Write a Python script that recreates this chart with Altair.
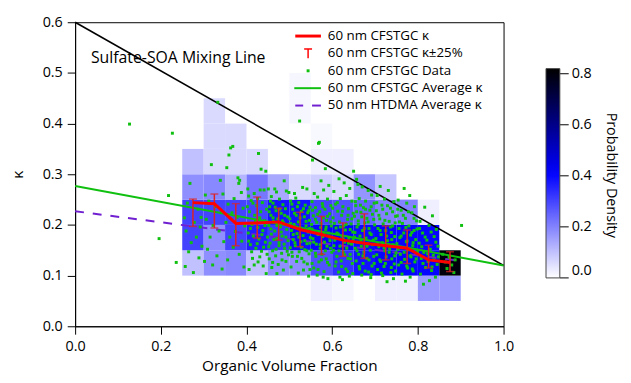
import altair as alt
import pandas as pd

# ---------------- data ----------------
# probability-density heat map: lower-left corner (f, kappa) of 0.05 x 0.05 cells
cell_f = [0.25, 0.25, 0.25, 0.25, 0.25,
          0.30, 0.30, 0.30, 0.30, 0.30, 0.30, 0.30,
          0.35, 0.35, 0.35, 0.35, 0.35, 0.35,
          0.40, 0.40, 0.40, 0.40, 0.40,
          0.45, 0.45, 0.45, 0.45,
          0.50, 0.50, 0.50, 0.50, 0.50, 0.50,
          0.55, 0.55, 0.55, 0.55, 0.55, 0.55, 0.55,
          0.60, 0.60, 0.60, 0.60, 0.60, 0.60,
          0.65, 0.65, 0.65, 0.65,
          0.70, 0.70, 0.70, 0.70, 0.70,
          0.75, 0.75, 0.75, 0.75,
          0.80, 0.80, 0.80, 0.80,
          0.85, 0.85]
cell_k = [0.10, 0.15, 0.20, 0.25, 0.30,
          0.10, 0.15, 0.20, 0.25, 0.30, 0.35, 0.40,
          0.10, 0.15, 0.20, 0.25, 0.30, 0.35,
          0.10, 0.15, 0.20, 0.25, 0.30,
          0.10, 0.15, 0.20, 0.25,
          0.10, 0.15, 0.20, 0.25, 0.40, 0.45,
          0.05, 0.10, 0.15, 0.20, 0.25, 0.30, 0.35,
          0.05, 0.10, 0.15, 0.20, 0.25, 0.30,
          0.10, 0.15, 0.20, 0.25,
          0.05, 0.10, 0.15, 0.20, 0.25,
          0.05, 0.10, 0.15, 0.20,
          0.05, 0.10, 0.15, 0.20,
          0.05, 0.10]
cell_v = [0.10, 0.30, 0.30, 0.18, 0.10,
          0.18, 0.18, 0.30, 0.19, 0.06, 0.06, 0.06,
          0.19, 0.30, 0.30, 0.12, 0.06, 0.06,
          0.10, 0.36, 0.30, 0.22, 0.06,
          0.18, 0.32, 0.38, 0.14,
          0.18, 0.39, 0.38, 0.06, 0.015, 0.015,
          0.025, 0.28, 0.40, 0.30, 0.08, 0.025, 0.012,
          0.015, 0.33, 0.40, 0.28, 0.06, 0.025,
          0.38, 0.39, 0.25, 0.17,
          0.025, 0.40, 0.40, 0.20, 0.09,
          0.025, 0.40, 0.40, 0.20,
          0.16, 0.40, 0.40, 0.025,
          0.16, 0.80]

# 60 nm CFSTGC kappa per organic-fraction bin
bin_f = [0.275, 0.325, 0.375, 0.425, 0.475, 0.525, 0.575, 0.625, 0.675, 0.725, 0.775, 0.825, 0.875]
kappa_avg = [0.244, 0.242, 0.203, 0.204, 0.206, 0.191, 0.181, 0.170, 0.164, 0.159, 0.154, 0.131, 0.126]
kappa_hi = [0.251, 0.261, 0.242, 0.255, 0.233, 0.225, 0.217, 0.204, 0.222, 0.198, 0.190, 0.160, 0.147]
kappa_lo = [0.197, 0.194, 0.159, 0.174, 0.170, 0.157, 0.142, 0.138, 0.134, 0.131, 0.124, 0.115, 0.108]

# straight lines
mix_f = [0.0, 1.0]
mix_k = [0.60, 0.12]
avg60_f = [0.0, 1.0]
avg60_k = [0.277, 0.120]
htdma_f = [0.0, 0.90]
htdma_k = [0.227, 0.129]

# 60 nm CFSTGC data points (organic fraction, kappa), grouped by column
pts_out = [(0.127, 0.399), (0.227, 0.381), (0.218, 0.258), (0.196, 0.173), (0.236, 0.126)]
pts_c25 = [(0.268, 0.282), (0.262, 0.243), (0.287, 0.231), (0.255, 0.214), (0.278, 0.205), (0.292, 0.196),
           (0.259, 0.188), (0.283, 0.176), (0.271, 0.165), (0.296, 0.158), (0.265, 0.147), (0.289, 0.135),
           (0.257, 0.118), (0.276, 0.106), (0.294, 0.215)]
pts_c30 = [(0.333, 0.442), (0.318, 0.319), (0.339, 0.288), (0.304, 0.259), (0.345, 0.261), (0.312, 0.247),
           (0.327, 0.236), (0.341, 0.224), (0.306, 0.211), (0.322, 0.199), (0.336, 0.188), (0.315, 0.176),
           (0.347, 0.167), (0.309, 0.152), (0.331, 0.139), (0.321, 0.121), (0.343, 0.113), (0.302, 0.128)]
pts_c35 = [(0.363, 0.352), (0.368, 0.355), (0.359, 0.338), (0.354, 0.313), (0.380, 0.293), (0.384, 0.288),
           (0.382, 0.282), (0.388, 0.264), (0.371, 0.252), (0.357, 0.241), (0.392, 0.233), (0.366, 0.224),
           (0.378, 0.215), (0.352, 0.205), (0.396, 0.198), (0.374, 0.187), (0.361, 0.176), (0.389, 0.168),
           (0.369, 0.156), (0.383, 0.142), (0.356, 0.131), (0.394, 0.117)]
pts_c40 = [(0.428, 0.341), (0.434, 0.310), (0.445, 0.306), (0.403, 0.271), (0.405, 0.257), (0.432, 0.269),
           (0.441, 0.269), (0.418, 0.262), (0.411, 0.248), (0.437, 0.244), (0.424, 0.238), (0.447, 0.231),
           (0.407, 0.226), (0.419, 0.219), (0.431, 0.214), (0.442, 0.208), (0.413, 0.201), (0.426, 0.195),
           (0.438, 0.189), (0.404, 0.184), (0.416, 0.178), (0.429, 0.172), (0.444, 0.166), (0.409, 0.161),
           (0.422, 0.154), (0.435, 0.148), (0.448, 0.142), (0.414, 0.134), (0.427, 0.127), (0.439, 0.119),
           (0.406, 0.112), (0.446, 0.104)]
pts_d40 = [(0.402, 0.236), (0.415, 0.243), (0.433, 0.226), (0.443, 0.199), (0.421, 0.207), (0.409, 0.193),
           (0.436, 0.181), (0.425, 0.163), (0.412, 0.147), (0.440, 0.156), (0.418, 0.121), (0.431, 0.137),
           (0.449, 0.176), (0.405, 0.168), (0.426, 0.252)]
pts_c45 = [(0.451, 0.271), (0.466, 0.271), (0.470, 0.265), (0.488, 0.287), (0.493, 0.267), (0.499, 0.264),
           (0.458, 0.256), (0.477, 0.251), (0.462, 0.243), (0.485, 0.240), (0.454, 0.236), (0.491, 0.232),
           (0.469, 0.228), (0.481, 0.223), (0.457, 0.219), (0.496, 0.216), (0.473, 0.212), (0.463, 0.207),
           (0.487, 0.204), (0.452, 0.199), (0.479, 0.196), (0.494, 0.191), (0.466, 0.188), (0.458, 0.182),
           (0.483, 0.178), (0.471, 0.173), (0.497, 0.169), (0.455, 0.164), (0.476, 0.159), (0.489, 0.154),
           (0.461, 0.149), (0.482, 0.144), (0.468, 0.139), (0.453, 0.133), (0.492, 0.128), (0.474, 0.122),
           (0.459, 0.116), (0.486, 0.111), (0.471, 0.104), (0.498, 0.141)]
pts_d45 = [(0.456, 0.247), (0.467, 0.235), (0.478, 0.231), (0.489, 0.219), (0.453, 0.226), (0.462, 0.214),
           (0.484, 0.208), (0.495, 0.201), (0.471, 0.199), (0.457, 0.192), (0.481, 0.186), (0.492, 0.176),
           (0.464, 0.171), (0.476, 0.165), (0.488, 0.162), (0.452, 0.157), (0.469, 0.152), (0.495, 0.148),
           (0.461, 0.126), (0.483, 0.131)]
pts_c50 = [(0.524, 0.405), (0.512, 0.262), (0.515, 0.253), (0.531, 0.274), (0.541, 0.271), (0.554, 0.328),
           (0.503, 0.247), (0.522, 0.244), (0.537, 0.239), (0.548, 0.235), (0.508, 0.231), (0.528, 0.227),
           (0.543, 0.224), (0.516, 0.219), (0.535, 0.216), (0.501, 0.212), (0.547, 0.209), (0.521, 0.206),
           (0.511, 0.201), (0.539, 0.198), (0.526, 0.194), (0.505, 0.189), (0.544, 0.186), (0.518, 0.183),
           (0.532, 0.179), (0.549, 0.175), (0.509, 0.171), (0.527, 0.167), (0.541, 0.163), (0.514, 0.159),
           (0.502, 0.155), (0.536, 0.151), (0.523, 0.147), (0.546, 0.143), (0.507, 0.138), (0.529, 0.134),
           (0.517, 0.128), (0.542, 0.123), (0.504, 0.117), (0.533, 0.111), (0.521, 0.105), (0.545, 0.099)]
pts_d50 = [(0.506, 0.241), (0.519, 0.236), (0.533, 0.232), (0.545, 0.228), (0.512, 0.223), (0.525, 0.214),
           (0.539, 0.207), (0.503, 0.203), (0.517, 0.196), (0.531, 0.191), (0.547, 0.193), (0.509, 0.181),
           (0.522, 0.176), (0.536, 0.169), (0.548, 0.164), (0.513, 0.165), (0.528, 0.156), (0.541, 0.149),
           (0.506, 0.146), (0.519, 0.138), (0.534, 0.127), (0.548, 0.112)]
pts_c55 = [(0.568, 0.361), (0.570, 0.363), (0.574, 0.287), (0.584, 0.311), (0.580, 0.269), (0.592, 0.278),
           (0.558, 0.262), (0.566, 0.255), (0.589, 0.251), (0.553, 0.246), (0.577, 0.242), (0.597, 0.238),
           (0.561, 0.234), (0.583, 0.231), (0.571, 0.226), (0.594, 0.222), (0.556, 0.218), (0.579, 0.214),
           (0.587, 0.209), (0.564, 0.205), (0.552, 0.201), (0.598, 0.198), (0.573, 0.195), (0.585, 0.191),
           (0.559, 0.187), (0.591, 0.184), (0.567, 0.181), (0.578, 0.177), (0.555, 0.173), (0.595, 0.169),
           (0.582, 0.166), (0.563, 0.162), (0.588, 0.158), (0.572, 0.154), (0.551, 0.150), (0.599, 0.146),
           (0.576, 0.142), (0.562, 0.138), (0.586, 0.133), (0.569, 0.127), (0.593, 0.121), (0.557, 0.115),
           (0.581, 0.108), (0.565, 0.101), (0.590, 0.094)]
pts_d55 = [(0.554, 0.229), (0.566, 0.221), (0.578, 0.236), (0.589, 0.217), (0.597, 0.206), (0.561, 0.211),
           (0.574, 0.203), (0.586, 0.196), (0.553, 0.192), (0.569, 0.186), (0.581, 0.182), (0.594, 0.176),
           (0.557, 0.166), (0.572, 0.161), (0.584, 0.149), (0.596, 0.154), (0.561, 0.144), (0.575, 0.131),
           (0.589, 0.126), (0.553, 0.124), (0.567, 0.112), (0.579, 0.097)]
pts_c60 = [(0.650, 0.306), (0.616, 0.291), (0.628, 0.283), (0.641, 0.272), (0.604, 0.266), (0.633, 0.258),
           (0.619, 0.252), (0.646, 0.247), (0.608, 0.241), (0.625, 0.236), (0.638, 0.232), (0.613, 0.227),
           (0.649, 0.223), (0.622, 0.219), (0.602, 0.214), (0.636, 0.211), (0.617, 0.206), (0.644, 0.202),
           (0.627, 0.198), (0.609, 0.194), (0.631, 0.190), (0.648, 0.186), (0.614, 0.182), (0.623, 0.178),
           (0.639, 0.174), (0.606, 0.170), (0.629, 0.166), (0.645, 0.162), (0.618, 0.158), (0.634, 0.154),
           (0.603, 0.150), (0.626, 0.146), (0.642, 0.142), (0.611, 0.138), (0.637, 0.134), (0.621, 0.129),
           (0.647, 0.124), (0.607, 0.119), (0.632, 0.113), (0.615, 0.107), (0.640, 0.099), (0.624, 0.092)]
pts_d60 = [(0.601, 0.233), (0.612, 0.244), (0.624, 0.227), (0.637, 0.219), (0.646, 0.212), (0.605, 0.203),
           (0.619, 0.196), (0.633, 0.201), (0.642, 0.191), (0.611, 0.184), (0.626, 0.172), (0.638, 0.164),
           (0.649, 0.171), (0.604, 0.159), (0.616, 0.149), (0.629, 0.141), (0.643, 0.133), (0.609, 0.127),
           (0.622, 0.118), (0.636, 0.108), (0.648, 0.104), (0.618, 0.097)]
pts_c65 = [(0.657, 0.290), (0.660, 0.280), (0.670, 0.275), (0.684, 0.268), (0.692, 0.259), (0.663, 0.252),
           (0.678, 0.247), (0.698, 0.243), (0.655, 0.238), (0.673, 0.234), (0.688, 0.229), (0.667, 0.225),
           (0.694, 0.221), (0.652, 0.217), (0.681, 0.213), (0.661, 0.208), (0.676, 0.204), (0.699, 0.200),
           (0.658, 0.196), (0.686, 0.193), (0.671, 0.189), (0.653, 0.185), (0.691, 0.181), (0.665, 0.178),
           (0.679, 0.174), (0.696, 0.170), (0.659, 0.166), (0.683, 0.162), (0.668, 0.158), (0.654, 0.154),
           (0.689, 0.150), (0.674, 0.146), (0.662, 0.142), (0.697, 0.138), (0.681, 0.134), (0.656, 0.129),
           (0.672, 0.124), (0.693, 0.119), (0.664, 0.113), (0.685, 0.107), (0.669, 0.101), (0.690, 0.096)]
pts_d65 = [(0.654, 0.246), (0.666, 0.239), (0.678, 0.231), (0.691, 0.236), (0.657, 0.226), (0.669, 0.216),
           (0.684, 0.206), (0.697, 0.211), (0.661, 0.201), (0.675, 0.193), (0.688, 0.184), (0.652, 0.176),
           (0.667, 0.169), (0.681, 0.158), (0.694, 0.161), (0.658, 0.149), (0.672, 0.139), (0.686, 0.131),
           (0.698, 0.124), (0.663, 0.118), (0.677, 0.109), (0.691, 0.102)]
pts_c70 = [(0.712, 0.276), (0.731, 0.268), (0.705, 0.258), (0.722, 0.251), (0.744, 0.246), (0.716, 0.239),
           (0.736, 0.233), (0.703, 0.228), (0.727, 0.222), (0.748, 0.217), (0.711, 0.212), (0.733, 0.207),
           (0.719, 0.202), (0.741, 0.198), (0.707, 0.193), (0.725, 0.189), (0.738, 0.185), (0.714, 0.181),
           (0.746, 0.177), (0.702, 0.173), (0.729, 0.169), (0.717, 0.165), (0.742, 0.161), (0.709, 0.157),
           (0.734, 0.153), (0.723, 0.149), (0.749, 0.145), (0.704, 0.141), (0.726, 0.137), (0.739, 0.133),
           (0.713, 0.128), (0.745, 0.123), (0.721, 0.118), (0.706, 0.112), (0.737, 0.106), (0.718, 0.100),
           (0.743, 0.094), (0.728, 0.088)]
pts_d70 = [(0.704, 0.244), (0.718, 0.231), (0.729, 0.238), (0.741, 0.226), (0.709, 0.219), (0.723, 0.209),
           (0.736, 0.196), (0.747, 0.204), (0.712, 0.189), (0.727, 0.178), (0.739, 0.171), (0.706, 0.163),
           (0.721, 0.155), (0.733, 0.146), (0.746, 0.139), (0.711, 0.131), (0.724, 0.124), (0.738, 0.116),
           (0.748, 0.109), (0.715, 0.105)]
pts_c75 = [(0.768, 0.272), (0.781, 0.258), (0.754, 0.249), (0.774, 0.243), (0.792, 0.236), (0.761, 0.229),
           (0.786, 0.224), (0.752, 0.218), (0.771, 0.213), (0.797, 0.208), (0.764, 0.203), (0.779, 0.198),
           (0.756, 0.193), (0.791, 0.189), (0.767, 0.184), (0.783, 0.180), (0.758, 0.175), (0.795, 0.171),
           (0.773, 0.167), (0.751, 0.163), (0.788, 0.159), (0.762, 0.155), (0.777, 0.151), (0.799, 0.147),
           (0.759, 0.142), (0.784, 0.137), (0.769, 0.132), (0.793, 0.127), (0.755, 0.121), (0.776, 0.115),
           (0.789, 0.109), (0.763, 0.103), (0.782, 0.097), (0.771, 0.089)]
pts_d75 = [(0.753, 0.231), (0.766, 0.219), (0.778, 0.226), (0.791, 0.213), (0.757, 0.206), (0.772, 0.195),
           (0.786, 0.185), (0.798, 0.192), (0.761, 0.178), (0.775, 0.168), (0.789, 0.165), (0.754, 0.152),
           (0.768, 0.146), (0.782, 0.139), (0.796, 0.133), (0.761, 0.126), (0.774, 0.119), (0.787, 0.113)]
pts_c80 = [(0.816, 0.235), (0.834, 0.218), (0.805, 0.207), (0.826, 0.199), (0.843, 0.191), (0.811, 0.184),
           (0.838, 0.177), (0.821, 0.170), (0.803, 0.164), (0.847, 0.158), (0.829, 0.152), (0.814, 0.146),
           (0.836, 0.140), (0.808, 0.134), (0.824, 0.128), (0.845, 0.122), (0.818, 0.116), (0.832, 0.110),
           (0.806, 0.103), (0.841, 0.097), (0.827, 0.090), (0.813, 0.083)]
pts_d80 = [(0.804, 0.193), (0.817, 0.176), (0.831, 0.186), (0.842, 0.166), (0.809, 0.157), (0.823, 0.143),
           (0.837, 0.131), (0.848, 0.137), (0.812, 0.124), (0.833, 0.117)]
pts_c85 = [(0.902, 0.199), (0.858, 0.142), (0.873, 0.136), (0.887, 0.131), (0.864, 0.127), (0.879, 0.121),
           (0.868, 0.114), (0.884, 0.106)]

legend_labels = ["60 nm CFSTGC κ", "60 nm CFSTGC κ±25%", "60 nm CFSTGC Data",
                 "60 nm CFSTGC Average κ", "50 nm HTDMA Average κ"]
cbar_ticks = [0.0, 0.2, 0.4, 0.6, 0.8]

# ---------------- chart ----------------
FONT = "Open Sans"
FS_LAB = 14.5     # tick labels
FS_TTL = 15.5     # axis titles
FS_LEG = 13.5     # legend text
W, H = 434, 308
CB_X, CB_Y, CB_LEN, CB_MAX = 477, 47, 212, 0.82

xs = alt.Scale(domain=[0, 1], nice=False, zero=False)
ys = alt.Scale(domain=[0, 0.6], nice=False, zero=False)
x_axis = alt.Axis(values=[0, 0.2, 0.4, 0.6, 0.8, 1.0], format=".1f", title="Organic Volume Fraction",
                  grid=False, tickSize=8, labelPadding=6, titlePadding=5, labelFlush=False)
y_axis = alt.Axis(values=[0, 0.1, 0.2, 0.3, 0.4, 0.5, 0.6], format=".1f", title="κ",
                  grid=False, tickSize=8, labelPadding=5, titlePadding=17, labelFlush=False)


def X(field):
    return alt.X(field, type="quantitative", scale=xs, axis=x_axis)


def Y(field):
    return alt.Y(field, type="quantitative", scale=ys, axis=y_axis)


heat_df = pd.DataFrame({"f": cell_f, "k": cell_k, "v": cell_v})
heat_df["f2"] = heat_df["f"] + 0.05
heat_df["k2"] = heat_df["k"] + 0.05

heat = alt.Chart(heat_df).mark_rect(strokeWidth=0).encode(
    x=X("f"), x2="f2", y=Y("k"), y2="k2",
    color=alt.Color("v:Q",
                    scale=alt.Scale(domain=[0, 0.41, CB_MAX], range=["#ffffff", "#0000ff", "#000000"],
                                    interpolate="rgb"),
                    legend=alt.Legend(orient="none", legendX=CB_X, legendY=CB_Y, direction="vertical",
                                      title=None, values=cbar_ticks, format=".1f",
                                      gradientLength=CB_LEN, gradientThickness=14,
                                      gradientStrokeColor="#444", gradientStrokeWidth=1,
                                      labelFont=FONT, labelFontSize=FS_LAB, labelColor="black",
                                      labelOffset=12, labelOverlap=False)),
)

mix = alt.Chart(pd.DataFrame({"f": mix_f, "k": mix_k})).mark_line(color="black", strokeWidth=1.6).encode(
    x=X("f"), y=Y("k"))
htdma = alt.Chart(pd.DataFrame({"f": htdma_f, "k": htdma_k})).mark_line(
    color="#7020d0", strokeWidth=2, strokeDash=[9, 9]).encode(x=X("f"), y=Y("k"))
avg60 = alt.Chart(pd.DataFrame({"f": avg60_f, "k": avg60_k})).mark_line(color="#10c010", strokeWidth=2).encode(
    x=X("f"), y=Y("k"))

all_pts = (pts_out + pts_c25 + pts_c30 + pts_c35 + pts_c40 + pts_d40 + pts_c45 + pts_d45 + pts_c50 + pts_d50
           + pts_c55 + pts_d55 + pts_c60 + pts_d60 + pts_c65 + pts_d65 + pts_c70 + pts_d70 + pts_c75 + pts_d75
           + pts_c80 + pts_d80 + pts_c85)
pts_df = pd.DataFrame(all_pts, columns=["f", "k"])
points = alt.Chart(pts_df).mark_square(size=9, color="#10c010", opacity=1).encode(x=X("f"), y=Y("k"))

bins_df = pd.DataFrame({"f": bin_f, "k": kappa_avg, "lo": kappa_lo, "hi": kappa_hi})
err = alt.Chart(bins_df).mark_rule(color="#dd2222", strokeWidth=1.5).encode(x=X("f"), y=Y("lo"), y2="hi")
cap_hi = alt.Chart(bins_df).mark_tick(color="#dd2222", orient="horizontal", size=8, thickness=1.5).encode(
    x=X("f"), y=Y("hi"))
cap_lo = alt.Chart(bins_df).mark_tick(color="#dd2222", orient="horizontal", size=8, thickness=1.5).encode(
    x=X("f"), y=Y("lo"))
red = alt.Chart(bins_df).mark_line(color="#ff0000", strokeWidth=3).encode(x=X("f"), y=Y("k"))

# annotation
mix_label = alt.Chart(pd.DataFrame({"t": ["Sulfate-SOA Mixing Line"]})).mark_text(
    align="left", baseline="middle", font=FONT, fontSize=16, color="black").encode(
    x=alt.value(16), y=alt.value(36), text="t:N")

# in-plot legend
ROW0, ROWSTEP = 14, 17.6
leg_df = pd.DataFrame({"label": legend_labels})
leg_df["py"] = [ROW0 + i * ROWSTEP for i in range(len(legend_labels))]
leg_text = alt.Chart(leg_df).mark_text(align="left", baseline="middle", font=FONT, fontSize=FS_LEG,
                                       color="black").encode(
    x=alt.value(256), y=alt.Y("py:Q", scale=None, axis=None), text="label:N")

one = pd.DataFrame({"a": [0]})
r1 = ROW0
r2 = ROW0 + ROWSTEP
r3 = ROW0 + 2 * ROWSTEP
r4 = ROW0 + 3 * ROWSTEP
r5 = ROW0 + 4 * ROWSTEP
leg_sym = [
    alt.Chart(one).mark_rule(color="#ff0000", strokeWidth=3).encode(
        x=alt.value(223), x2=alt.value(249), y=alt.value(r1)),
    alt.Chart(one).mark_rule(color="#ff0000", strokeWidth=1.5).encode(
        x=alt.value(232), x2=alt.value(240), y=alt.value(r2 - 4.5)),
    alt.Chart(one).mark_rule(color="#ff0000", strokeWidth=1.5).encode(
        x=alt.value(236), y=alt.value(r2 - 4.5), y2=alt.value(r2 + 5)),
    alt.Chart(one).mark_square(color="#10c010", size=9, opacity=1).encode(
        x=alt.value(236), y=alt.value(r3)),
    alt.Chart(one).mark_rule(color="#10c010", strokeWidth=2).encode(
        x=alt.value(222), x2=alt.value(249), y=alt.value(r4)),
    alt.Chart(one).mark_rule(color="#7020d0", strokeWidth=2).encode(
        x=alt.value(223), x2=alt.value(231), y=alt.value(r5)),
    alt.Chart(one).mark_rule(color="#7020d0", strokeWidth=2).encode(
        x=alt.value(240), x2=alt.value(249), y=alt.value(r5)),
]

# colour-bar tick marks and title (outside the plot, next to the gradient legend)
cb_df = pd.DataFrame({"v": cbar_ticks})
cb_df["py"] = [CB_Y + CB_LEN * (1 - v / CB_MAX) for v in cbar_ticks]
cb_ticks = alt.Chart(cb_df).mark_rule(color="black", strokeWidth=1).encode(
    x=alt.value(CB_X + 14), x2=alt.value(CB_X + 23), y=alt.Y("py:Q", scale=None, axis=None))
cb_title = alt.Chart(pd.DataFrame({"t": ["Probability Density"]})).mark_text(
    align="center", baseline="middle", angle=90, font=FONT, fontSize=FS_LAB, color="black").encode(
    x=alt.value(543), y=alt.value(155), text="t:N")

chart = alt.layer(
    heat, mix, htdma, points, avg60, err, cap_hi, cap_lo, red,
    mix_label, leg_text, *leg_sym, cb_ticks, cb_title
).properties(
    width=W, height=H,
    autosize=alt.AutoSizeParams(type="none"),
    padding={"left": 68, "top": 12, "right": 121, "bottom": 52},
).configure_view(
    stroke="black", strokeWidth=1
).configure_axis(
    labelFont=FONT, titleFont=FONT, labelFontSize=FS_LAB, titleFontSize=FS_TTL,
    labelColor="black", titleColor="black", tickColor="black", domainColor="black",
    titleFontWeight="normal", domainWidth=1, tickWidth=1
)

chart.save("out.html", embed_options={"renderer": "svg", "actions": False})
